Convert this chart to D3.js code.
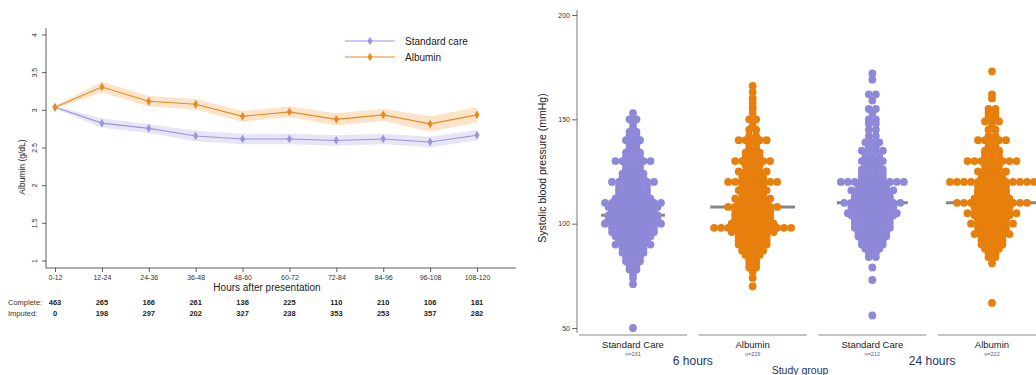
<!DOCTYPE html>
<html><head><meta charset="utf-8">
<script src="https://cdn.jsdelivr.net/npm/d3@7"></script>
<style>body{margin:0;background:#fff}text{font-family:"Liberation Sans",Arial,Helvetica,sans-serif}</style>
</head><body><svg id="c" width="1036" height="375"></svg>
<script>
// ---------- Left panel data ----------
const periods = ["0-12","12-24","24-36","36-48","48-60","60-72","72-84","84-96","96-108","108-120"];
const stdMean = [3.04,2.83,2.76,2.66,2.62,2.62,2.60,2.62,2.58,2.67];
const stdLo   = [3.02,2.77,2.70,2.59,2.55,2.55,2.53,2.55,2.51,2.60];
const stdHi   = [3.06,2.89,2.82,2.73,2.69,2.69,2.67,2.69,2.65,2.74];
const albMean = [3.04,3.31,3.12,3.08,2.92,2.98,2.88,2.94,2.82,2.94];
const albLo   = [3.02,3.24,3.05,3.01,2.85,2.91,2.80,2.86,2.72,2.84];
const albHi   = [3.06,3.38,3.19,3.15,2.99,3.05,2.96,3.02,2.92,3.04];
const completeN = [463,265,166,261,136,225,110,210,106,181];
const imputedN  = [0,198,297,202,327,238,353,253,357,282];
const albTicks = [1,1.5,2,2.5,3,3.5,4];
const seriesNames = ["Standard care","Albumin"];

// ---------- Right panel data ----------
const groups = ["Standard Care","Albumin","Standard Care","Albumin"];
const groupN = [231,229,212,222];
const timepoints = ["6 hours","24 hours"];
const medians = [104,108,110,110];
const sbpTicks = [50,100,150,200];
// [systolic value, number of patients]
const sc6 = [[50,1],[71,1],[74,1],[76,1],[78,2],[80,2],[82,3],[84,3],[86,4],[87,2],[88,4],[89,3],[90,6],[91,3],[92,5],[93,3],[94,6],[95,3],[96,7],[97,4],[98,7],[99,4],[100,9],[101,4],[102,8],[103,4],[104,8],[105,4],[106,7],[107,4],[108,8],[109,4],[110,9],[111,4],[112,6],[113,3],[114,5],[115,3],[116,5],[117,2],[118,5],[119,2],[120,7],[121,1],[122,4],[123,2],[124,4],[126,3],[128,3],[130,6],[132,3],[134,3],[136,2],[138,2],[140,3],[142,2],[144,2],[146,1],[148,1],[150,2],[153,1]];
const alb6 = [[70,1],[74,1],[77,1],[79,2],[81,2],[83,2],[85,3],[87,4],[88,3],[90,5],[91,3],[92,5],[93,3],[94,5],[95,4],[96,7],[97,4],[98,12],[99,4],[100,7],[101,4],[102,6],[103,4],[104,6],[105,5],[106,6],[107,4],[108,8],[109,4],[110,5],[111,3],[112,6],[113,3],[114,4],[115,3],[116,5],[117,2],[118,4],[119,3],[120,8],[121,2],[122,4],[123,2],[124,3],[125,5],[126,2],[127,2],[128,3],[130,6],[132,3],[134,3],[136,2],[138,2],[140,5],[142,2],[145,2],[147,1],[150,2],[153,1],[155,1],[156,1],[158,1],[160,1],[163,1],[166,1]];
const sc24 = [[56,1],[73,1],[79,1],[84,2],[86,2],[88,3],[90,4],[91,2],[92,4],[93,3],[94,5],[95,3],[96,5],[97,3],[98,6],[99,3],[100,6],[101,3],[102,6],[103,3],[104,7],[105,8],[106,5],[107,4],[108,7],[109,4],[110,9],[111,4],[112,6],[113,6],[114,4],[115,5],[116,7],[117,3],[118,5],[119,3],[120,10],[121,2],[122,4],[124,4],[126,4],[128,3],[130,4],[132,3],[135,4],[137,2],[139,3],[142,2],[145,2],[148,2],[150,2],[153,1],[155,2],[159,1],[162,2],[169,1],[172,1]];
const alb24 = [[62,1],[81,1],[84,2],[86,2],[88,3],[90,4],[91,2],[92,4],[94,4],[95,6],[96,4],[98,5],[99,3],[100,7],[101,4],[102,5],[103,4],[104,6],[105,8],[106,5],[107,4],[108,6],[109,4],[110,11],[111,4],[112,6],[113,4],[114,5],[115,5],[116,5],[117,3],[118,5],[119,3],[120,13],[121,2],[122,4],[123,3],[124,3],[125,5],[126,3],[128,3],[130,8],[132,3],[134,3],[135,3],[137,2],[140,5],[142,2],[145,2],[147,1],[149,3],[151,2],[153,2],[155,2],[160,1],[162,1],[173,1]];
const groupData = [sc6, alb6, sc24, alb24];

// ---------- styles ----------
const PURPLE = "#8e88d8", ORANGE = "#e77f0c";
const LPURPLE = "#9a94de", LORANGE = "#e78a20";
const svg = d3.select("#c");
svg.append("rect").attr("width",1036).attr("height",375).attr("fill","#fff");

// ================= LEFT PANEL =================
const L = svg.append("g");
const x = d3.scalePoint().domain(periods).range([55,477]);
const y = d3.scaleLinear().domain([1,4]).range([261,35]);

L.append("line").attr("x1",46).attr("x2",46).attr("y1",28).attr("y2",268).attr("stroke","#333").attr("stroke-width",0.8);
L.append("line").attr("x1",46).attr("x2",516).attr("y1",268).attr("y2",268).attr("stroke","#333").attr("stroke-width",0.8);

const ya = L.append("g").attr("transform","translate(46,0)").call(d3.axisLeft(y).tickValues(albTicks).tickSize(4).tickFormat(d3.format("")));
ya.select(".domain").remove();
ya.selectAll("line").attr("stroke","#333").attr("stroke-width",0.8);
ya.selectAll("text").attr("font-size",7).attr("fill","#333").attr("x",0).attr("dy",0)
  .attr("text-anchor","middle")
  .attr("transform",d=>`translate(-9,${y(d)}) rotate(-90)`).attr("y",0);
ya.selectAll(".tick").attr("transform",null);
ya.selectAll(".tick line").attr("y1",d=>y(d)).attr("y2",d=>y(d));

const xa = L.append("g").attr("transform","translate(0,268)").call(d3.axisBottom(x).tickSize(4));
xa.select(".domain").remove();
xa.selectAll("line").attr("stroke","#333").attr("stroke-width",0.8);
xa.selectAll("text").attr("font-size",7).attr("fill","#333").attr("y",7);

L.append("text").attr("x",267).attr("y",291).attr("text-anchor","middle").attr("font-size",10).attr("fill","#222").text("Hours after presentation");
L.append("text").attr("transform","translate(25,167) rotate(-90)").attr("text-anchor","middle").attr("font-size",8.5).attr("fill","#222").text("Albumin (g/dL)");

const idx = d3.range(periods.length);
const area = (lo,hi)=>d3.area().x(i=>x(periods[i])).y0(i=>y(lo[i])).y1(i=>y(hi[i]));
L.append("path").datum(idx).attr("d",area(stdLo,stdHi)).attr("fill","#e6e4f6").attr("opacity",0.95);
L.append("path").datum(idx).attr("d",area(albLo,albHi)).attr("fill","#fbe3c6").attr("opacity",0.95);
const line = m=>d3.line().x(i=>x(periods[i])).y(i=>y(m[i]));
[[stdMean,LPURPLE],[albMean,LORANGE]].forEach(([m,c])=>{
  L.append("path").datum(idx).attr("d",line(m)).attr("fill","none").attr("stroke",c).attr("stroke-width",1.1);
  L.selectAll(null).data(idx).join("path")
    .attr("transform",i=>`translate(${x(periods[i])},${y(m[i])})`)
    .attr("d",d3.symbol(d3.symbolDiamond,22)).attr("fill",c);
});

const legY = [41,57];
[[LPURPLE,seriesNames[0]],[LORANGE,seriesNames[1]]].forEach(([c,t],k)=>{
  L.append("line").attr("x1",345).attr("x2",395).attr("y1",legY[k]).attr("y2",legY[k]).attr("stroke",c).attr("stroke-width",1.1);
  L.append("path").attr("transform",`translate(370,${legY[k]})`).attr("d",d3.symbol(d3.symbolDiamond,22)).attr("fill",c);
  L.append("text").attr("x",405).attr("y",legY[k]+3.5).attr("font-size",10).attr("fill","#222").text(t);
});

L.append("text").attr("x",8).attr("y",305).attr("font-size",7.5).attr("fill","#333").text("Complete:");
L.append("text").attr("x",8).attr("y",316).attr("font-size",7.5).attr("fill","#333").text("Imputed:");
L.selectAll(null).data(idx).join("text").attr("x",i=>x(periods[i])).attr("y",305).attr("text-anchor","middle")
  .attr("font-size",7.5).attr("font-weight","bold").attr("fill","#222").text(i=>completeN[i]);
L.selectAll(null).data(idx).join("text").attr("x",i=>x(periods[i])).attr("y",316).attr("text-anchor","middle")
  .attr("font-size",7.5).attr("font-weight","bold").attr("fill","#222").text(i=>imputedN[i]);

// ================= RIGHT PANEL =================
const R = svg.append("g");
const y2 = d3.scaleLinear().domain([50,200]).range([328,15]);
const gx = d3.scalePoint().domain(d3.range(groups.length)).range([633,992]);
const colors = [PURPLE,ORANGE,PURPLE,ORANGE];
const SP = 7, RAD = 3.9;

R.append("line").attr("x1",577).attr("x2",577).attr("y1",10).attr("y2",333).attr("stroke","#666").attr("stroke-width",0.9);
const ya2 = R.append("g").attr("transform","translate(577,0)").call(d3.axisLeft(y2).tickValues(sbpTicks).tickSize(5));
ya2.select(".domain").remove();
ya2.selectAll("line").attr("stroke","#444").attr("stroke-width",0.8);
ya2.selectAll("text").attr("font-size",7).attr("fill","#333").attr("x",-7);
R.append("text").attr("transform","translate(546,168) rotate(-90)").attr("text-anchor","middle").attr("font-size",10.5).attr("fill","#222").text("Systolic blood pressure (mmHg)");

groupData.forEach((rows,g)=>{
  const cx = gx(g);
  const maxC = d3.max(rows,r=>r[1]);
  const half = (maxC-1)*SP/2 + RAD;
  R.append("line").attr("x1",cx-54).attr("x2",cx+54).attr("y1",335).attr("y2",335).attr("stroke","#888").attr("stroke-width",1);
  R.append("line").attr("x1",cx-half).attr("x2",cx+half).attr("y1",y2(medians[g])).attr("y2",y2(medians[g])).attr("stroke","#858585").attr("stroke-width",3);
  const pts = [];
  rows.forEach(([v,c])=>{ for(let i=0;i<c;i++) pts.push({x:cx+(i-(c-1)/2)*SP, y:y2(v)}); });
  R.selectAll(null).data(pts).join("circle").attr("cx",d=>d.x).attr("cy",d=>d.y).attr("r",RAD).attr("fill",colors[g]);
  R.append("text").attr("x",cx).attr("y",348).attr("text-anchor","middle").attr("font-size",9.5).attr("fill","#222").text(groups[g]);
  R.append("text").attr("x",cx).attr("y",356).attr("text-anchor","middle").attr("font-size",5.5).attr("fill","#555a80").text("n="+groupN[g]);
});
timepoints.forEach((t,k)=>{
  const cx = (gx(2*k)+gx(2*k+1))/2;
  R.append("text").attr("x",cx).attr("y",365).attr("text-anchor","middle").attr("font-size",12).attr("fill","#23306a").text(t);
});
R.append("text").attr("x",800).attr("y",374).attr("text-anchor","middle").attr("font-size",10.5).attr("fill","#23306a").text("Study group");
</script></body></html>
